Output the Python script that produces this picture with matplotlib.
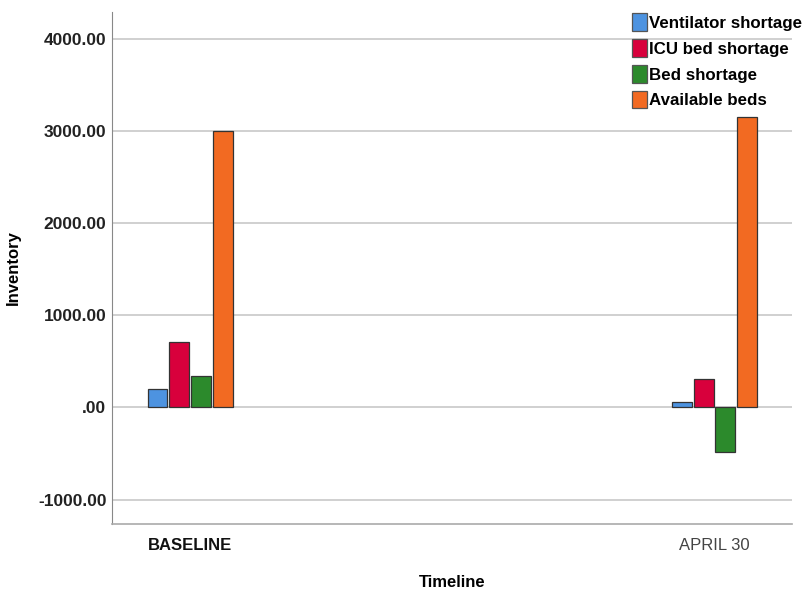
import matplotlib.pyplot as plt
import numpy as np

plt.rcParams['font.family'] = ['Liberation Sans', 'DejaVu Sans']

timeline = ['BASELINE', 'APRIL 30']
series = ['Ventilator shortage', 'ICU bed shortage', 'Bed shortage', 'Available beds']
ventilator = [205, 60]
icu_bed = [705, 305]
bed = [338, -485]
available = [3000, 3150]
colors = ['#4d93e0', '#d8003c', '#2c8a2c', '#f26a22']

values = [ventilator, icu_bed, bed, available]

fig = plt.figure(figsize=(8.03, 5.90), dpi=100)
ax = fig.add_axes([0.1395, 0.112, 0.847, 0.868])

x = np.arange(len(timeline))
step = 0.0415
width = 0.038
for i, (vals, name, c) in enumerate(zip(values, series, colors)):
    offs = (i - 1.5) * step
    ax.bar(x + offs, vals, width, color=c, edgecolor='#333333', linewidth=0.9,
           label=name, zorder=3)

ax.set_xlim(-0.149, 1.148)
ax.set_ylim(-1264, 4292)
ax.set_yticks([-1000, 0, 1000, 2000, 3000, 4000])
ax.set_yticklabels(['-1000.00', '.00', '1000.00', '2000.00', '3000.00', '4000.00'],
                   fontsize=12.5, fontweight='bold', color='#222222')
ax.yaxis.grid(True, color='#c8c8c8', linewidth=1.2, zorder=0)
ax.tick_params(axis='y', length=0, pad=4)
ax.tick_params(axis='x', length=0, pad=10)

ax.set_xticks(x)
ax.set_xticklabels(timeline, fontsize=12)
ax.get_xticklabels()[0].set_fontweight('bold')
ax.get_xticklabels()[0].set_color('#111111')
ax.get_xticklabels()[1].set_color('#444444')

for s in ['top', 'right']:
    ax.spines[s].set_visible(False)
ax.spines['left'].set_color('#888888')
ax.spines['bottom'].set_color('#aaaaaa')
ax.spines['bottom'].set_linewidth(1.2)

ax.set_xlabel('Timeline', fontsize=12, fontweight='bold', labelpad=16)
ax.set_ylabel('Inventory', fontsize=12, fontweight='bold', labelpad=12)

leg = ax.legend(loc='upper right', bbox_to_anchor=(1.025, 1.01), frameon=False,
                prop={'size': 12.2, 'weight': 'bold'}, handlelength=0.85,
                handleheight=1.2, handletextpad=0.15, labelspacing=0.5,
                borderaxespad=0.0)
for h in leg.legend_handles:
    h.set_edgecolor('#555555')

fig.savefig('out.png', dpi=100)
